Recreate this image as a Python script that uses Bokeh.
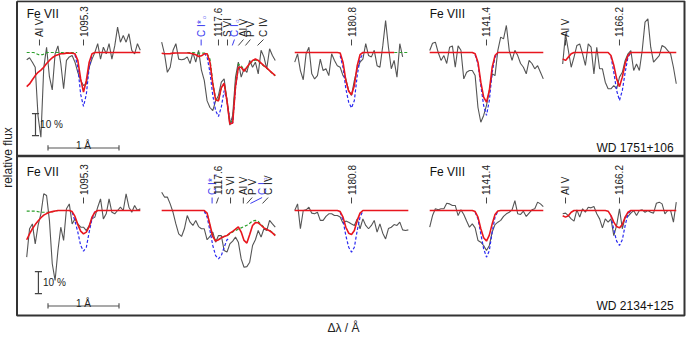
import numpy as np
from bokeh.plotting import figure
from bokeh.models import Range1d, GlobalInlineStyleSheet
from bokeh.embed import file_html
from bokeh.resources import INLINE
from bokeh.core.properties import value

# ---------------- data (Δλ in Å relative to the line centre, relative flux) ----------------
DL = [round(0.04 * k, 2) for k in range(-20, 21)]   # sampling grid of every window

# --- WD 1751+106 (top row) ---
T1_obs = [0.967, 0.976, 0.956, 0.933, 0.71, 0.615, 0.93, 1.024, 0.89, 0.83, 0.994, 1.03, 0.95, 0.835,
          0.964, 0.98, 0.986, 0.956, 0.91, 0.873, 0.85, 0.857, 0.933, 0.97, 1.0, 1.04, 0.97, 1.024,
          0.994, 1.04, 0.97, 1.03, 1.115, 1.047, 1.077, 1.047, 1.085, 1.01, 0.994, 1.04, 1.01]
T1_fit = [0.845, 0.857, 0.876, 0.895, 0.91, 0.92, 0.933, 0.95, 0.964, 0.976, 0.985, 0.99, 0.994, 0.995,
          0.997, 0.997, 0.997, 0.994, 0.964, 0.88, 0.82, 0.873, 0.956, 0.994] + [1.0] * 17
T1_blue_dl = [-0.12, -0.08, -0.04, 0.0, 0.04, 0.08, 0.12]
T1_blue = [0.99, 0.933, 0.81, 0.755, 0.81, 0.933, 0.99]
T1_green_dl = [-0.80, -0.70, -0.63, -0.58, -0.51, -0.09]
T1_green = [1.0, 1.0, 0.99, 0.99, 1.0, 1.0]

T2_obs = [1.047, 0.994, 0.91, 0.933, 1.01, 1.04, 0.97, 0.967, 0.97, 0.98, 0.95, 1.0, 0.956, 1.01,
          0.92, 0.873, 0.78, 0.75, 0.736, 0.78, 0.805, 0.865, 0.88, 0.78, 0.67, 0.714, 0.888, 0.956,
          0.888, 0.926, 0.91, 0.964, 0.933, 0.956, 0.903, 1.01, 0.98, 0.926, 1.017, 0.986, 0.964]
T2_fit = [0.997, 0.994, 0.994, 0.995, 0.997, 0.998, 0.998, 0.998, 0.998, 0.998, 0.997, 0.994, 0.99,
          0.982, 0.985, 0.994, 0.994, 0.956, 0.857, 0.785, 0.78, 0.84, 0.86, 0.78, 0.675, 0.68, 0.845,
          0.933, 0.933, 0.915, 0.933, 0.95, 0.964, 0.97, 0.964, 0.952, 0.94, 0.93, 0.918, 0.906, 0.895]
T2_blue_dl = [-0.20, -0.16, -0.12, -0.08, -0.04, 0.0, 0.04, 0.08, 0.12, 0.16, 0.20, 0.24, 0.28]
T2_blue = [0.997, 0.979, 0.911, 0.805, 0.736, 0.709, 0.752, 0.827, 0.782, 0.691, 0.679, 0.839, 0.933]
T2_green_dl = DL[9:]
T2_green = [1.0, 1.0, 1.0, 0.998, 0.997, 0.997, 0.997, 0.994, 0.97, 0.865, 0.79, 0.782, 0.839, 0.858,
            0.785, 0.69, 0.683, 0.858, 0.948, 0.941, 0.918, 0.926, 0.948, 0.96, 0.966, 0.96, 0.95,
            0.938, 0.928, 0.916, 0.905, 0.894]

T3_obs = [0.956, 0.994, 0.918, 0.876, 0.994, 1.024, 0.903, 0.88, 0.895, 0.97, 0.918, 0.926, 0.895,
          0.994, 0.964, 0.94, 0.933, 0.895, 0.88, 0.827, 0.805, 0.873, 0.926, 0.956, 0.97, 1.04, 0.986,
          0.98, 1.01, 0.94, 0.933, 1.03, 1.145, 1.024, 0.926, 0.964, 0.888, 1.04, 0.98]
T3_fit = [1.0] * 16 + [0.998, 0.956, 0.873, 0.824, 0.808, 0.85, 0.94, 0.99] + [1.0] * 12
T3_blue_dl = [-0.16, -0.12, -0.08, -0.04, 0.0, 0.04, 0.08, 0.12, 0.16]
T3_blue = [0.986, 0.933, 0.835, 0.774, 0.748, 0.782, 0.895, 0.971, 0.994]
T3_green_dl = [0.32, 0.80]
T3_green = [1.0, 1.0]

T4_obs = [1.009, 1.042, 1.047, 1.0, 0.964, 0.986, 0.95, 1.024, 1.03, 0.933, 1.03, 1.01, 0.88, 0.91,
          0.918, 0.918, 0.895, 0.75, 0.683, 0.714, 0.76, 0.827, 0.903, 0.895, 1.01, 1.07, 1.062,
          1.123, 1.01, 0.964, 1.01, 0.986, 0.95, 0.933, 0.903, 0.964, 0.95, 0.926, 0.94, 0.91, 0.88]
T4_fit = [1.0] * 16 + [0.994, 0.956, 0.865, 0.797, 0.774, 0.827, 0.933, 0.986] + [1.0] * 17
T4_blue_dl = [-0.16, -0.12, -0.08, -0.04, 0.0, 0.04, 0.08, 0.12, 0.16]
T4_blue = [0.99, 0.948, 0.85, 0.759, 0.714, 0.782, 0.91, 0.979, 0.997]
T4_green_dl = [0.40, 0.80]
T4_green = [1.0, 1.0]

T5_obs = [0.948, 1.085, 1.009, 0.933, 0.979, 1.032, 1.039, 0.994, 0.941, 1.039, 1.024, 0.903, 1.024,
          0.926, 0.926, 0.865, 0.835, 0.835, 0.85, 0.835, 0.888, 0.91, 0.964, 0.994, 1.009, 0.918,
          0.948, 0.918, 1.009, 1.138, 1.153, 1.024, 0.956, 0.971, 0.986, 1.032, 1.024, 1.009, 0.994,
          0.933, 0.858]
T5_fit = [0.971, 0.964, 0.979, 0.994] + [1.0] * 13 + [0.986, 0.942, 0.88, 0.845, 0.888, 0.95, 0.986] + [1.0] * 17
T5_blue_dl = [-0.12, -0.08, -0.04, 0.0, 0.04, 0.08, 0.12, 0.16]
T5_blue = [0.982, 0.91, 0.827, 0.782, 0.827, 0.91, 0.98, 0.997]
T5_green_dl = []
T5_green = []

# --- WD 2134+125 (bottom row) ---
B1_obs = [0.788, 0.917, 0.939, 0.848, 0.932, 0.985, 1.076, 1.068, 0.955, 0.758, 0.682, 0.818, 0.924,
          0.864, 1.008, 1.03, 0.939, 0.962, 0.939, 0.924, 0.924, 0.909, 0.932, 0.962, 0.97, 1.015,
          1.053, 0.962, 0.985, 1.053, 0.992, 0.985, 1.0, 1.015, 1.0, 1.076, 1.015, 0.992, 1.023, 1.0, 1.008]
B1_fit = [0.867, 0.894, 0.917, 0.936, 0.952, 0.967, 0.979, 0.986, 0.992, 0.995, 0.998, 1.0, 1.0, 1.0,
          1.0, 1.0, 0.995, 0.973, 0.936, 0.906, 0.894, 0.902, 0.927, 0.97, 0.992] + [1.0] * 16
B1_blue_dl = [-0.16, -0.12, -0.08, -0.04, 0.0, 0.04, 0.08, 0.12, 0.16]
B1_blue = [0.992, 0.952, 0.902, 0.841, 0.815, 0.833, 0.902, 0.962, 0.995]
B1_green_dl = [-0.80, -0.68, -0.60, -0.48, -0.36, -0.20]
B1_green = [0.997, 0.997, 0.992, 0.992, 1.0, 1.0]

B2_obs = [1.083, 1.061, 1.061, 1.03, 0.992, 0.939, 0.894, 0.882, 0.917, 0.977, 0.947, 0.932, 0.955,
          0.927, 0.917, 0.917, 0.867, 0.882, 0.902, 0.856, 0.886, 0.886, 0.818, 0.811, 0.848, 0.861,
          0.879, 0.856, 0.78, 0.742, 0.745, 0.765, 0.841, 0.867, 0.909, 0.879, 0.917, 0.909, 0.955,
          0.939, 0.924]
B2_fit = [1.0] * 16 + [0.988, 0.936, 0.882, 0.861, 0.867, 0.876, 0.882, 0.886, 0.897, 0.905, 0.915,
                       0.926, 0.902, 0.864, 0.852, 0.891, 0.932, 0.945, 0.944, 0.933, 0.921, 0.914,
                       0.908, 0.898, 0.886]
B2_blue_dl = [-0.20, -0.16, -0.12, -0.08, -0.04, 0.0, 0.04, 0.08, 0.12, 0.16]
B2_blue = [0.997, 0.97, 0.909, 0.841, 0.795, 0.78, 0.795, 0.833, 0.867, 0.876]
B2_green_dl = DL[15:]
B2_green = [0.998, 0.985, 0.932, 0.882, 0.864, 0.867, 0.876, 0.882, 0.886, 0.894, 0.902, 0.909, 0.915,
            0.921, 0.927, 0.933, 0.942, 0.952, 0.955, 0.95, 0.936, 0.924, 0.915, 0.909, 0.9, 0.888]

B3_obs = [1.0, 1.03, 0.917, 1.0, 1.003, 1.015, 0.988, 0.985, 0.992, 0.955, 0.955, 0.973, 0.985, 0.985,
          0.977, 0.977, 0.97, 0.942, 0.952, 0.947, 0.939, 0.932, 0.962, 0.917, 0.962, 0.932, 0.917,
          0.932, 0.955, 0.902, 0.939, 0.897, 0.871, 0.918, 0.924, 0.936, 0.932, 0.947, 0.912, 0.909, 0.912]
B3_fit = [1.0] * 16 + [0.995, 0.97, 0.924, 0.897, 0.891, 0.909, 0.955, 0.988] + [1.0] * 17
B3_blue_dl = [-0.16, -0.12, -0.08, -0.04, 0.0, 0.04, 0.08, 0.12, 0.16]
B3_blue = [0.992, 0.955, 0.886, 0.833, 0.811, 0.833, 0.909, 0.97, 0.997]
B3_green_dl = []
B3_green = []

B4_obs = [0.924, 0.977, 1.008, 1.003, 1.008, 1.008, 1.033, 1.03, 1.023, 1.023, 0.977, 1.003, 0.982,
          0.952, 0.924, 0.939, 0.921, 0.864, 0.856, 0.841, 0.818, 0.841, 0.902, 0.936, 0.947, 0.955,
          0.973, 0.985, 0.992, 1.003, 1.045, 0.985, 0.982, 0.997, 0.973, 0.988, 1.003, 1.008, 1.038,
          1.03, 1.018]
B4_fit = [1.0] * 16 + [0.995, 0.97, 0.917, 0.876, 0.861, 0.888, 0.939, 0.982, 0.998] + [1.0] * 16
B4_blue_dl = [-0.16, -0.12, -0.08, -0.04, 0.0, 0.04, 0.08, 0.12, 0.16]
B4_blue = [0.992, 0.962, 0.894, 0.826, 0.788, 0.818, 0.902, 0.97, 0.997]
B4_green_dl = []
B4_green = []

B5_obs = [0.985, 0.988, 0.977, 0.962, 0.952, 1.003, 0.97, 1.008, 0.992, 1.015, 1.012, 1.018, 0.985,
          0.962, 0.921, 0.962, 0.947, 0.962, 0.886, 0.932, 1.008, 0.917, 0.97, 0.973, 0.988, 1.0,
          0.977, 1.0, 1.003, 0.992, 1.0, 0.992, 0.988, 1.033, 1.038, 1.03, 0.985, 1.0, 1.0, 0.947, 1.038]
B5_fit = [0.976, 0.97, 0.976, 0.992] + [1.0] * 12 + [0.997, 0.977, 0.947, 0.927, 0.921, 0.936, 0.97, 0.992] + [1.0] * 17
B5_blue_dl = [-0.12, -0.08, -0.04, 0.0, 0.04, 0.08, 0.12, 0.16]
B5_blue = [0.977, 0.912, 0.861, 0.841, 0.867, 0.932, 0.985, 0.998]
B5_green_dl = []
B5_green = []

# line identifications: text, Δλ of the line, Δλ of the label, colour key
ions = ["Fe VII", "", "", "Fe VIII", ""]
stars = ["WD 1751+106", "WD 2134+125"]
top_labels = [
    [("Al V", -0.62, -0.62, "k"), ("1095.3", 0.0, 0.0, "k")],
    [("C I*", -0.244, -0.244, "b"), ("1117.6", 0.0, 0.0, "k"), ("S VI", 0.127, 0.127, "k"),
     ("C I", 0.195, 0.225, "b"), ("Al V", 0.28, 0.352, "k"), ("P V", 0.38, 0.45, "k"),
     ("C IV", 0.55, 0.634, "k")],
    [("1180.8", 0.0, 0.0, "k")],
    [("1141.4", 0.0, 0.0, "k")],
    [("Al V", -0.76, -0.76, "k"), ("1166.2", 0.0, 0.0, "k")],
]
bot_labels = [
    [("1095.3", 0.0, 0.0, "k")],
    [("C I*", -0.09, -0.09, "b"), ("1117.6", -0.03, 0.0, "k"), ("S VI", 0.17, 0.17, "k"),
     ("Al V", 0.35, 0.35, "k"), ("P V", 0.40, 0.475, "k"), ("C I", 0.45, 0.615, "b"),
     ("C IV", 0.62, 0.70, "k")],
    [("1180.8", 0.0, 0.0, "k")],
    [("1141.4", 0.0, 0.0, "k")],
    [("Al V", -0.76, -0.76, "k"), ("1166.2", 0.0, 0.0, "k")],
]

# ---------------- layout ----------------
W, H = 686, 338
PX_A, PX_F = 71.0, 220.0          # px per Å, px per unit of relative flux
SEG_X = [0.0, 1.901, 3.775, 5.676, 7.549]   # window centres (Å)
ROW_Y = [0.0, -0.7182]                      # row offsets (flux)
FONT = value("Liberation Sans")
GRAY, RED, BLUE, GREEN = "#555555", "#e8161e", "#2a2af0", "#2ca02c"
TXT_BLUE = "#3c3cf0"


def xd(px):
    return (px - 83) / PX_A


def yd(py):
    return 1 + (52 - py) / PX_F


p = figure(width=W, height=H, output_backend="svg", toolbar_location=None,
           x_range=Range1d(xd(0), xd(W)), y_range=Range1d(yd(H), yd(0)),
           x_axis_type=None, y_axis_type=None, min_border=0,
           outline_line_color=None, background_fill_color="white", border_fill_color="white")
p.xgrid.visible = False
p.ygrid.visible = False
p.stylesheets = [GlobalInlineStyleSheet(css="html, body { margin: 0 !important; padding: 0; overflow: hidden; }")]


def sh(vals, off):
    return [v + off for v in vals]


rows = [
    [(T1_obs, T1_fit, T1_blue_dl, T1_blue, T1_green_dl, T1_green),
     (T2_obs, T2_fit, T2_blue_dl, T2_blue, T2_green_dl, T2_green),
     (T3_obs, T3_fit, T3_blue_dl, T3_blue, T3_green_dl, T3_green),
     (T4_obs, T4_fit, T4_blue_dl, T4_blue, T4_green_dl, T4_green),
     (T5_obs, T5_fit, T5_blue_dl, T5_blue, T5_green_dl, T5_green)],
    [(B1_obs, B1_fit, B1_blue_dl, B1_blue, B1_green_dl, B1_green),
     (B2_obs, B2_fit, B2_blue_dl, B2_blue, B2_green_dl, B2_green),
     (B3_obs, B3_fit, B3_blue_dl, B3_blue, B3_green_dl, B3_green),
     (B4_obs, B4_fit, B4_blue_dl, B4_blue, B4_green_dl, B4_green),
     (B5_obs, B5_fit, B5_blue_dl, B5_blue, B5_green_dl, B5_green)],
]

for r, row in enumerate(rows):
    y0 = ROW_Y[r]
    for s, (obs, fit, bdl, bl, gdl, gr) in enumerate(row):
        x0 = SEG_X[s]
        p.line(sh(DL[:len(obs)], x0), sh(obs, y0), line_color=GRAY, line_width=1.1)
        if gr:
            p.line(sh(gdl, x0), sh(gr, y0), line_color=GREEN, line_width=1.2, line_dash="3 2")
        p.line(sh(bdl, x0), sh(bl, y0), line_color=BLUE, line_width=1.2, line_dash="3 2")
        p.line(sh(DL[:len(fit)], x0), sh(fit, y0), line_color=RED, line_width=1.6)

# line identification labels
for r, labs in enumerate([top_labels, bot_labels]):
    y0 = ROW_Y[r]
    for s, seg in enumerate(labs):
        x0 = SEG_X[s]
        for (txt, lpos, tpos, ck) in seg:
            col = TXT_BLUE if ck == "b" else "#222222"
            p.segment(x0=[x0 + lpos], y0=[y0 + 1.032], x1=[x0 + tpos], y1=[y0 + 1.059],
                      line_color=col if ck == "b" else "#444444", line_width=1)
            p.text(x=[x0 + tpos], y=[y0 + 1.071], text=[txt], angle=np.pi / 2,
                   text_align="left", text_baseline="middle", text_font=FONT,
                   text_font_size="10px", text_color=col)
            if txt == "C I*" or (txt == "C I"):
                ln = 0.080 if txt == "C I*" else 0.064
                p.text(x=[x0 + tpos + 0.035], y=[y0 + 1.071 + ln], text=["o"], angle=np.pi / 2,
                       text_align="left", text_baseline="middle", text_font=FONT,
                       text_font_size="6px", text_color="#7a7af5")

# ion names and star names
for r in range(2):
    y0 = ROW_Y[r]
    for s, ion in enumerate(ions):
        if ion:
            p.text(x=[SEG_X[s] - 0.80], y=[y0 + 1.173], text=[ion], text_align="left",
                   text_baseline="middle", text_font=FONT, text_font_size="12px", text_color="#111111")
    p.text(x=[SEG_X[4] + 0.762], y=[y0 + 0.568], text=[stars[r]], text_align="right",
           text_baseline="alphabetic", text_font=FONT, text_font_size="12px", text_color="#111111")

# scale bars (10 % in flux, 1 Å in wavelength)
for r, xb in enumerate([-0.676, -0.635]):
    y0 = ROW_Y[r]
    p.segment(x0=[xb], y0=[y0 + 0.622], x1=[xb], y1=[y0 + 0.722], line_color="#444444", line_width=1.2)
    p.segment(x0=[xb - 0.05, xb - 0.05], y0=[y0 + 0.622, y0 + 0.722],
              x1=[xb + 0.05, xb + 0.05], y1=[y0 + 0.622, y0 + 0.722], line_color="#444444", line_width=1.2)
    p.text(x=[xb + 0.065], y=[y0 + 0.672], text=["10 %"], text_align="left", text_baseline="middle",
           text_font=FONT, text_font_size="10px", text_color="#222222")
    yb = y0 + 0.566
    p.segment(x0=[-0.5], y0=[yb], x1=[0.5], y1=[yb], line_color="#555555", line_width=1.2)
    p.segment(x0=[-0.5, 0.5], y0=[yb - 0.012, yb - 0.012], x1=[-0.5, 0.5], y1=[yb + 0.012, yb + 0.012],
              line_color="#555555", line_width=1.2)
    p.text(x=[0.0], y=[yb + 0.012], text=["1 Å"], text_align="center", text_baseline="alphabetic",
           text_font=FONT, text_font_size="10px", text_color="#222222")

# panel frames
p.line([xd(16.5), xd(684), xd(684), xd(16.5), xd(16.5)], [yd(0.8), yd(0.8), yd(315), yd(315), yd(0.8)],
       line_color="#333333", line_width=2)
p.line([xd(16.5), xd(684)], [yd(155.5), yd(155.5)], line_color="#333333", line_width=2.5)

# axis titles
p.text(x=[xd(7)], y=[yd(157)], text=["relative flux"], angle=np.pi / 2, text_align="center",
       text_baseline="middle", text_font=FONT, text_font_size="12px", text_color="#222222")
p.text(x=[xd(343)], y=[yd(327)], text=["Δλ / Å"], text_align="center", text_baseline="middle",
       text_font=FONT, text_font_size="12px", text_color="#222222")

open("out.html", "w").write(file_html(p, INLINE))
